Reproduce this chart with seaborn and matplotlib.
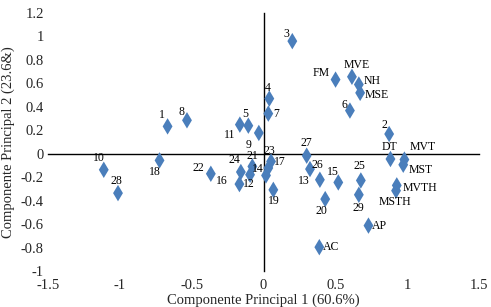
import matplotlib
matplotlib.use('Agg')
import matplotlib.pyplot as plt
import seaborn as sns
import pandas as pd

# point names and scores
names = ['1', '2', '3', '4', '5', '6', '7', '8', '9', '10',
         '11', '12', '13', '14', '15', '16', '17', '18', '19', '20',
         '21', '22', '23', '24', '25', '26', '27', '28', '29',
         'FM', 'MVE', 'NH', 'MSE', 'DT', 'MVT', 'MST', 'MVTH', 'MSTH', 'AP', 'AC']
pc1 = [-0.668, 0.874, 0.20, 0.04, -0.106, 0.601, 0.033, -0.533, -0.033, -1.112,
       -0.165, -0.168, 0.392, 0.017, 0.52, -0.094, 0.033, -0.724, 0.068, 0.429,
       -0.078, -0.367, 0.052, -0.158, 0.677, 0.323, 0.30, -1.013, 0.663,
       0.501, 0.615, 0.663, 0.672, 0.883, 0.98, 0.972, 0.927, 0.922, 0.73, 0.388]
pc2 = [0.233, 0.168, 0.96, 0.47, 0.239, 0.368, 0.342, 0.285, 0.177, -0.137,
       0.248, -0.259, -0.222, -0.185, -0.245, -0.179, -0.122, -0.057, -0.308, -0.387,
       -0.109, -0.171, -0.066, -0.156, -0.228, -0.131, -0.017, -0.336, -0.35,
       0.632, 0.656, 0.59, 0.519, -0.045, -0.05, -0.094, -0.27, -0.315, -0.613, -0.797]

x_ticks = [-1.5, -1, -0.5, 0, 0.5, 1, 1.5]
y_ticks = [-1, -0.8, -0.6, -0.4, -0.2, 0, 0.2, 0.4, 0.6, 0.8, 1, 1.2]

# where each label sits relative to its marker, in pixels
label_offsets = {
    '1': (-6, 11), '2': (-5, 9), '3': (-6, 7), '4': (-2, 11), '5': (-3, 12),
    '6': (-5, 6), '7': (8, 0), '8': (-5, 8), '9': (-10, -12), '10': (-5, 12),
    '11': (-10, -10), '12': (9, 0), '13': (-16, -1), '14': (-8, 6), '15': (-5, 10),
    '16': (-28, -6), '17': (12, 6), '18': (-5, -12), '19': (0, -11), '20': (-4, -12),
    '21': (0, 10), '22': (-12, 6), '23': (-2, 10), '24': (-6, 12), '25': (-1, 14),
    '26': (7, 4), '27': (0, 13), '28': (-2, 12), '29': (0, -13),
    'FM': (-14, 7), 'MVE': (5, 12), 'NH': (13, 4), 'MSE': (17, -2), 'DT': (-1, 12),
    'MVT': (18, 13), 'MST': (17, -5), 'MVTH': (23, -3), 'MSTH': (-1, -11),
    'AP': (11, 0), 'AC': (12, 0),
}

df = pd.DataFrame({'name': names, 'pc1': pc1, 'pc2': pc2})

sns.set_style('white')
plt.rcParams['font.family'] = ['Liberation Serif', 'DejaVu Serif']
plt.rcParams['axes.unicode_minus'] = False

fig = plt.figure(figsize=(4.91, 3.07), dpi=100)
ax = fig.add_axes([0.0978, 0.1173, 0.878, 0.8404])

sns.scatterplot(data=df, x='pc1', y='pc2', marker='d', s=70,
                color='#4a7ebb', edgecolor='none', ax=ax, zorder=3)

for _, row in df.iterrows():
    dx, dy = label_offsets[row['name']]
    ax.annotate(row['name'], (row['pc1'], row['pc2']), xytext=(dx, dy),
                textcoords='offset pixels', ha='center', va='center',
                fontsize=8.5, color='black', zorder=4)

ax.set_xlim(-1.5, 1.5)
ax.set_ylim(-1, 1.2)
ax.spines['top'].set_visible(False)
ax.spines['right'].set_visible(False)
ax.spines['left'].set_position(('data', 0))
ax.spines['bottom'].set_position(('data', 0))
for side in ['left', 'bottom']:
    ax.spines[side].set_color('black')
    ax.spines[side].set_linewidth(1)
ax.set_xticks(x_ticks)
ax.set_yticks(y_ticks)
ax.tick_params(axis='x', direction='out', length=5, width=1, color='black', labelbottom=False)
ax.tick_params(axis='y', direction='out', length=3, width=1, color='black', labelleft=False)
ax.set_xlabel('')
ax.set_ylabel('')

# tick labels stay on the outer edges, Excel style
secx = ax.secondary_xaxis('bottom')
secx.set_xticks(x_ticks, labels=[f'{v:g}' for v in x_ticks])
secx.spines['bottom'].set_visible(False)
secx.tick_params(length=0, pad=6, labelsize=10.5)
secx.set_xlabel('Componente Principal 1 (60.6%)', fontsize=10.5, labelpad=1)

secy = ax.secondary_yaxis('left')
secy.set_yticks(y_ticks, labels=[f'{v:g}' for v in y_ticks])
secy.spines['left'].set_visible(False)
secy.tick_params(length=0, pad=3, labelsize=10.5)
secy.set_ylabel('Componente Principal 2 (23.6&)', fontsize=10.5, labelpad=4)

fig.savefig('out.png', dpi=100)
